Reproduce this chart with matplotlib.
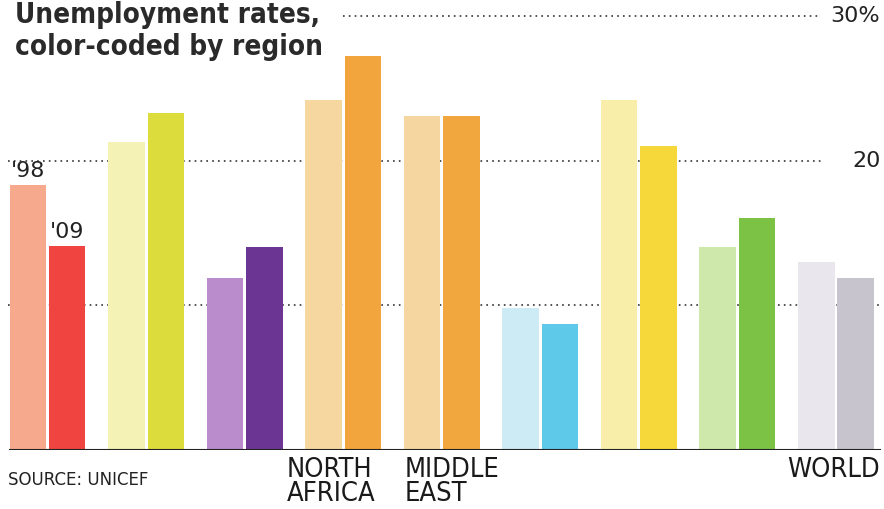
import matplotlib.pyplot as plt

regions = ['', '', '', 'NORTH\nAFRICA', 'MIDDLE\nEAST', '', '', '', 'WORLD']
rate_98 = [18.3, 21.3, 11.9, 24.2, 23.1, 9.8, 24.2, 14.0, 13.0]
rate_09 = [14.1, 23.3, 14.0, 27.2, 23.1, 8.7, 21.0, 16.0, 11.9]
colors_98 = ['#f6a98c', '#f4f2b4', '#ba8ccc', '#f6d7a0', '#f6d6a0',
             '#cdebf4', '#f8eeaa', '#cde8aa', '#e9e6ee']
colors_09 = ['#ef4440', '#dcdc3c', '#6b3693', '#f1a53c', '#f1a63e',
             '#5fc9ea', '#f6d83a', '#7cc244', '#c8c4cd']
grid_vals = [10, 20, 30]
grid_labels = ['', '20', '30%']

fig = plt.figure(figsize=(8.84, 5.09), dpi=100)
ax = fig.add_axes([0, (509 - 450) / 509, 1, 450 / 509])
ax.set_xlim(-0.482, 8.487)
ax.set_ylim(0, 450 / 14.47)
ax.axis('off')

xs = list(range(len(rate_98)))
w = 0.37
ax.bar([x - 0.2 for x in xs], rate_98, width=w, color=colors_98, zorder=2)
ax.bar([x + 0.2 for x in xs], rate_09, width=w, color=colors_09, zorder=2)

# dotted gridlines run behind the bars
grid_spans = {10: (-0.4, 8.45), 20: (-0.4, 7.85), 30: (3.0, 7.85)}
for v in grid_vals:
    x0, x1 = grid_spans[v]
    ax.plot([x0, x1], [v, v], color='#333333', lw=1.2,
            linestyle=(0, (1, 2.5)), zorder=1)
for v, lab in zip(grid_vals, grid_labels):
    if lab:
        ax.text(8.45, v, lab, ha='right', va='center', fontsize=16,
                color='#222222', family='DejaVu Sans')

ax.plot([-0.38, 8.45], [0, 0], color='#222222', lw=1.5, zorder=3)

ax.text(-0.2, rate_98[0] + 0.3, "'98", ha='center', va='bottom',
        fontsize=16, color='#222222')
ax.text(0.2, rate_09[0] + 0.3, "'09", ha='center', va='bottom',
        fontsize=16, color='#222222')

fig.text(15 / 884, 1 - 1 / 509, 'Unemployment rates,\ncolor-coded by region',
         ha='left', va='top', fontsize=20, fontweight='bold',
         fontstretch='condensed', color='#2a2a2a', family='DejaVu Sans',
         linespacing=1.2)

# region names: pixel anchor and alignment
label_pos = {3: (287, 'left'), 4: (405, 'left'), 8: (880, 'right')}
for i, name in enumerate(regions):
    if name:
        px, ha = label_pos[i]
        fig.text(px / 884, 1 - 457 / 509, name, ha=ha, va='top', fontsize=19.5,
                 fontstretch='condensed', family='DejaVu Sans',
                 color='#1a1a1a', linespacing=0.88)

fig.text(8 / 884, 1 - 480 / 509, 'SOURCE: UNICEF', ha='left', va='center',
         fontsize=12, color='#222222', family='DejaVu Sans')

fig.savefig('out.png', dpi=100)
